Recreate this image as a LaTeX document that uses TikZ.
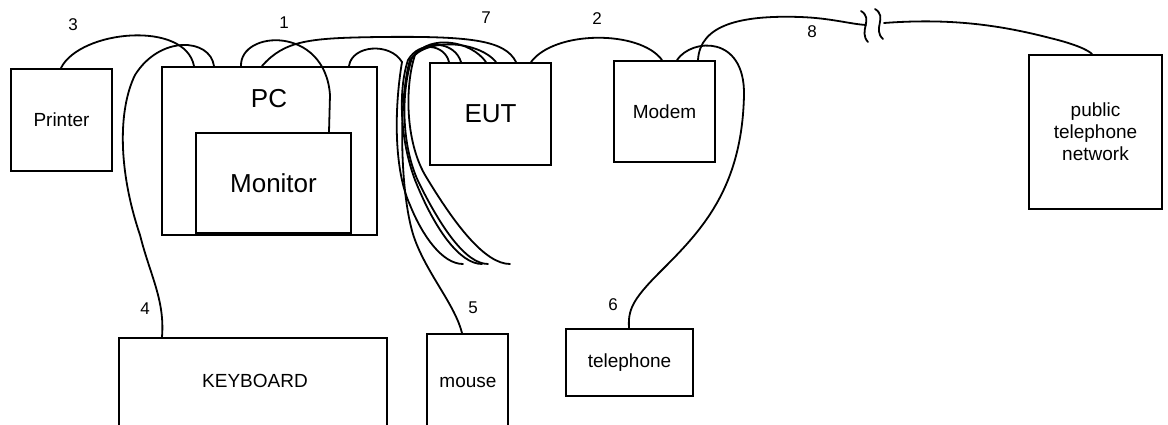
\documentclass[tikz,border=0pt]{standalone}
\usepackage{fontspec}
\setmainfont{Liberation Sans}
\usetikzlibrary{calc}
\begin{document}
\begin{tikzpicture}[x=1pt,y=-1pt,
  box/.style={draw,line width=2pt,fill=white,inner sep=0pt,font=\fontsize{19}{22}\selectfont,align=center},
  txt/.style={inner sep=0pt,font=\fontsize{19}{22}\selectfont,align=center},
  bigtxt/.style={inner sep=0pt,font=\fontsize{26}{30}\selectfont},
  cable/.style={line width=1.8pt,line cap=round},
  num/.style={inner sep=0pt,font=\fontsize{17}{20}\selectfont}]
\useasboundingbox (0,0) rectangle (1168,425);
\clip (0,0) rectangle (1168,425);

% boxes
\node[box,minimum width=101pt,minimum height=102pt] (printer) at (61.5,120) {Printer};
\node[box,minimum width=215pt,minimum height=168pt] (pc) at (269.5,151) {};
\node[bigtxt] (pclabel) at (269,99) {PC};
\node[box,minimum width=155pt,minimum height=100pt,font=\fontsize{26}{30}\selectfont] (monitor) at (273.5,183) {Monitor};
\node[box,minimum width=121pt,minimum height=102pt,font=\fontsize{26}{30}\selectfont] (eut) at (490.5,114) {EUT};
\node[box,minimum width=101pt,minimum height=101pt] (modem) at (664.5,111.5) {Modem};
\node[box,minimum width=133pt,minimum height=154pt] (ptn) at (1095.5,132) {public\\telephone\\network};
\node[box,minimum width=268pt,minimum height=100pt] (keyboard) at (253,388) {};
\node[txt] (kbtext) at (255,381) {KEYBOARD};
\node[box,minimum width=81pt,minimum height=104pt] (mouse) at (467.5,386) {};
\node[txt] (mousetext) at (468,382) {mouse};
\node[box,minimum width=127pt,minimum height=67pt] (telephone) at (629.5,362.5) {telephone};

% numbers
\node[num] (n3) at (73,25) {3};
\node[num] (n1) at (284,23) {1};
\node[num] (n7) at (486,18) {7};
\node[num] (n2) at (597,19) {2};
\node[num] (n8) at (812,32) {8};
\node[num] (n4) at (145,309) {4};
\node[num] (n5) at (473,308) {5};
\node[num] (n6) at (613,305) {6};

% cable 3: printer - PC
\draw[cable] ([xshift=51pt]printer.north west) .. controls (80,30) and (185,20) .. ([xshift=33pt]pc.north west);
% cable 4: PC - keyboard
\draw[cable] ([xshift=53pt]pc.north west) .. controls (210,38) and (160,35) .. (135,75)
  .. controls (118,110) and (118,170) .. (140,235)
  .. controls (150,275) and (165,300) .. ([xshift=44pt]keyboard.north west);
% cable 1: PC - monitor
\draw[cable] ([xshift=80pt]pc.north west) .. controls (240,30) and (325,25) .. (330,95) -- ([xshift=134pt]monitor.north west);
% cable 7 (long): PC - EUT
\draw[cable] ([xshift=101pt]pc.north west) .. controls (285,40) and (310,38) .. (380,37)
  .. controls (470,36) and (505,40) .. ([xshift=87pt]eut.north west);
% bundle (cable 7)
\coordinate (endA) at (463,264);
\coordinate (endB) at (482,264);
\coordinate (endC) at (488,264);
\coordinate (endD) at (510,264);
\draw[cable] ([xshift=188pt]pc.north west) .. controls (352,45) and (390,42) .. (402,62)
  .. controls (394,110) and (394,170) .. (410,205)
  .. controls (422,235) and (442,264) .. (endA);
\draw[cable] ([xshift=20pt]eut.north west) .. controls (445,45) and (420,40) .. (408,60)
  .. controls (398,90) and (400,140) .. (415,180)
  .. controls (435,230) and (460,264) .. (endB);
\draw[cable] ([xshift=32pt]eut.north west) .. controls (455,42) and (425,38) .. (412,58)
  .. controls (400,95) and (402,150) .. (420,185)
  .. controls (440,225) and (465,264) .. (endC);
\draw[cable] ([xshift=57pt]eut.north west) .. controls (470,40) and (430,35) .. (415,55)
  .. controls (405,85) and (405,140) .. (425,175)
  .. controls (455,225) and (485,264) .. (endD);
% mouse cable
\draw[cable] ([xshift=67pt]eut.north west) .. controls (480,42) and (428,36) .. (410,60)
  .. controls (398,100) and (400,200) .. (415,240)
  .. controls (428,275) and (455,305) .. ([xshift=36pt]mouse.north west);
% cable 2: EUT - modem
\draw[cable] ([xshift=102pt]eut.north west) .. controls (555,30) and (640,30) .. ([xshift=49pt]modem.north west);
% cable 6: modem - telephone
\draw[cable] ([xshift=64pt]modem.north west) .. controls (692,38) and (745,35) .. (744,95)
  .. controls (742,190) and (700,232) .. (660,272)
  .. controls (632,300) and (628,310) .. ([xshift=64pt]telephone.north west);
% cable 8: modem - public telephone network (broken)
\coordinate (brk1) at (866,25);
\coordinate (brk2) at (884,23);
\draw[cable] ([xshift=85pt]modem.north west) .. controls (700,25) and (740,15) .. (800,17)
  .. controls (830,18) and (850,24) .. (brk1);
\draw[cable] (brk2) .. controls (950,18) and (1000,25) .. (1050,38)
  .. controls (1075,44) and (1088,50) .. ([xshift=64pt]ptn.north west);
\draw[cable] (861,11) .. controls (874,19) and (858,31) .. (868,42);
\draw[cable] (875,9) .. controls (888,17) and (872,29) .. (883,39);
\end{tikzpicture}
\end{document}
